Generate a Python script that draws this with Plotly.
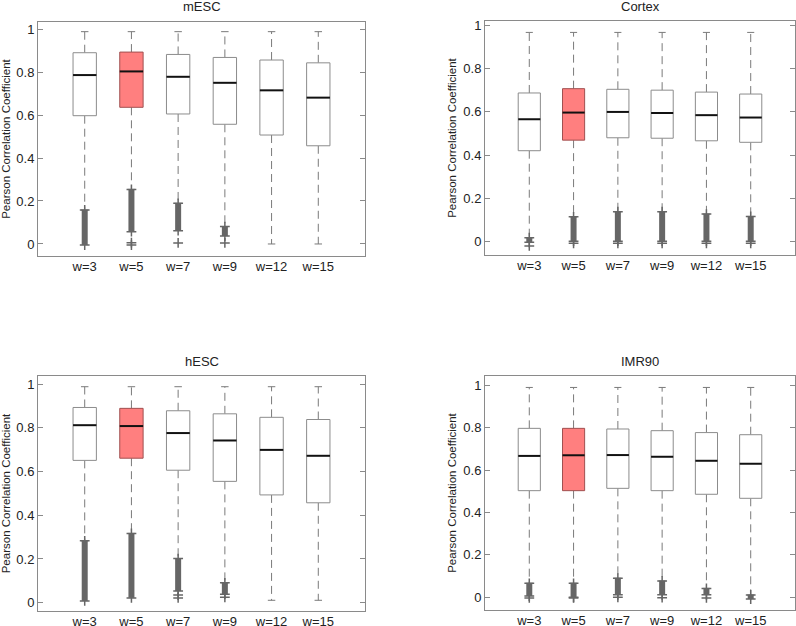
import plotly.graph_objects as go

W, H = 796, 626
categories = ["w=3", "w=5", "w=7", "w=9", "w=12", "w=15"]
highlight = 1  # index of the red box (w=5)

panels = ["mESC", "Cortex", "hESC", "IMR90"]

# mESC
mesc_q1 = [0.597, 0.636, 0.605, 0.557, 0.507, 0.457]
mesc_med = [0.786, 0.803, 0.778, 0.750, 0.715, 0.681]
mesc_q3 = [0.890, 0.893, 0.882, 0.868, 0.856, 0.843]
mesc_wlo = [0.158, 0.254, 0.189, 0.081, 0.0, 0.0]
mesc_whi = [0.988, 0.988, 0.988, 0.988, 0.988, 0.988]
mesc_olo = [-0.005, 0.057, 0.062, 0.037, None, None]
mesc_ohi = [0.158, 0.254, 0.189, 0.081, None, None]
mesc_oext = [[], [0.006, -0.005], [0.005], [0.005], [], []]

# Cortex
cortex_q1 = [0.420, 0.469, 0.480, 0.478, 0.466, 0.459]
cortex_med = [0.566, 0.597, 0.600, 0.595, 0.585, 0.574]
cortex_q3 = [0.688, 0.708, 0.705, 0.701, 0.692, 0.683]
cortex_wlo = [0.016, 0.113, 0.137, 0.137, 0.126, 0.115]
cortex_whi = [0.969, 0.969, 0.969, 0.969, 0.969, 0.969]
cortex_olo = [-0.005, 0.0, 0.0, 0.0, 0.0, 0.0]
cortex_ohi = [0.016, 0.113, 0.137, 0.137, 0.126, 0.115]
cortex_oext = [[-0.022], [-0.01], [-0.01], [-0.01], [-0.01], [-0.01]]

# hESC
hesc_q1 = [0.651, 0.661, 0.606, 0.555, 0.493, 0.457]
hesc_med = [0.812, 0.808, 0.776, 0.742, 0.699, 0.672]
hesc_q3 = [0.893, 0.889, 0.878, 0.864, 0.848, 0.838]
hesc_wlo = [0.283, 0.317, 0.202, 0.091, 0.011, 0.011]
hesc_whi = [0.988, 0.988, 0.988, 0.988, 0.988, 0.988]
hesc_olo = [0.008, 0.022, 0.053, 0.039, None, None]
hesc_ohi = [0.283, 0.317, 0.202, 0.091, None, None]
hesc_oext = [[], [], [0.035, 0.022], [0.025], [], []]

# IMR90
imr_q1 = [0.503, 0.503, 0.514, 0.503, 0.486, 0.467]
imr_med = [0.667, 0.670, 0.671, 0.663, 0.644, 0.630]
imr_q3 = [0.797, 0.797, 0.794, 0.786, 0.777, 0.767]
imr_wlo = [0.066, 0.066, 0.090, 0.077, 0.042, 0.011]
imr_whi = [0.990, 0.990, 0.990, 0.990, 0.990, 0.990]
imr_olo = [0.006, 0.0, 0.012, 0.012, 0.012, -0.008]
imr_ohi = [0.066, 0.066, 0.090, 0.077, 0.042, 0.011]
imr_oext = [[-0.003], [-0.003], [0.0], [-0.002], [-0.003], []]

data = [
    (mesc_q1, mesc_med, mesc_q3, mesc_wlo, mesc_whi, mesc_olo, mesc_ohi, mesc_oext),
    (cortex_q1, cortex_med, cortex_q3, cortex_wlo, cortex_whi, cortex_olo, cortex_ohi, cortex_oext),
    (hesc_q1, hesc_med, hesc_q3, hesc_wlo, hesc_whi, hesc_olo, hesc_ohi, hesc_oext),
    (imr_q1, imr_med, imr_q3, imr_wlo, imr_whi, imr_olo, imr_ohi, imr_oext),
]

# pixel frames: (left, right, top, bottom), y ranges
frames = [(38, 365, 22, 256), (485, 795, 21, 255), (38, 365, 376, 611), (485, 795, 376, 610)]
yranges = [[-0.056, 1.033], [-0.064, 1.022], [-0.038, 1.037], [-0.06, 1.044]]

FRAME = "#8a8a8a"
BOXLINE = "#8c8c8c"
WHISK = "#7a7a7a"
OUT = "#666666"
RED = "#ff7f7f"
FONT = "Liberation Sans, Arial, sans-serif"

fig = go.Figure()
hw = 0.25
cw = 0.08

for p, (q1, med, q3, wlo, whi, olo, ohi, oext) in enumerate(data):
    xa = "x" if p == 0 else f"x{p+1}"
    ya = "y" if p == 0 else f"y{p+1}"
    n = len(categories)
    pos = list(range(1, n + 1))

    wx, wy = [], []
    cx, cy = [], []
    for i in range(n):
        x = pos[i]
        wx += [x, x, None, x, x, None]
        wy += [q3[i], whi[i], None, q1[i], wlo[i], None]
        cx += [x - cw, x + cw, None, x - cw, x + cw, None]
        cy += [whi[i], whi[i], None, wlo[i], wlo[i], None]
    fig.add_trace(go.Scatter(x=wx, y=wy, mode="lines", xaxis=xa, yaxis=ya,
                             line=dict(color=WHISK, width=1, dash="8px,5px"),
                             hoverinfo="skip", showlegend=False))
    fig.add_trace(go.Scatter(x=cx, y=cy, mode="lines", xaxis=xa, yaxis=ya,
                             line=dict(color=WHISK, width=1),
                             hoverinfo="skip", showlegend=False))

    ox, oy, mx, my = [], [], [], []
    for i in range(n):
        x = pos[i]
        if olo[i] is not None:
            ox += [x, x, None]
            oy += [olo[i], ohi[i], None]
            mx += [x, x]
            my += [olo[i], ohi[i]]
        for v in oext[i]:
            mx.append(x)
            my.append(v)
    fig.add_trace(go.Scatter(x=ox, y=oy, mode="lines", xaxis=xa, yaxis=ya,
                             line=dict(color=OUT, width=6),
                             hoverinfo="skip", showlegend=False))
    fig.add_trace(go.Scatter(x=mx, y=my, mode="markers", xaxis=xa, yaxis=ya,
                             marker=dict(symbol="cross-thin", size=7,
                                         line=dict(color=OUT, width=1.5)),
                             hoverinfo="skip", showlegend=False))

    for i in range(n):
        x = pos[i]
        red = (i == highlight)
        fig.add_trace(go.Scatter(
            x=[x - hw, x + hw, x + hw, x - hw, x - hw],
            y=[q1[i], q1[i], q3[i], q3[i], q1[i]],
            mode="lines", fill="toself",
            fillcolor=RED if red else "white",
            line=dict(color="#a05050" if red else BOXLINE, width=1),
            xaxis=xa, yaxis=ya, hoverinfo="skip", showlegend=False))
        fig.add_trace(go.Scatter(
            x=[x - hw, x + hw], y=[med[i], med[i]], mode="lines",
            line=dict(color="#111111", width=2),
            xaxis=xa, yaxis=ya, hoverinfo="skip", showlegend=False))

layout = dict(
    width=W, height=H, margin=dict(l=0, r=0, t=0, b=0),
    paper_bgcolor="white", plot_bgcolor="white", showlegend=False,
    font=dict(family=FONT, color="#222222"),
)
annotations = []
for p in range(4):
    l, r, t, b = frames[p]
    sx = "" if p == 0 else str(p + 1)
    layout["xaxis" + sx] = dict(
        domain=[l / W, r / W], range=[0, 7], anchor="y" + sx,
        tickvals=list(range(1, 7)), ticktext=categories, ticks="",
        ticklabelstandoff=-2, automargin=False,
        showgrid=False, zeroline=False, showline=True, linecolor=FRAME,
        linewidth=1, mirror=True, tickfont=dict(size=13, color="#222222"),
        fixedrange=True)
    layout["yaxis" + sx] = dict(
        domain=[1 - b / H, 1 - t / H], range=yranges[p], anchor="x" + sx,
        tickvals=[0, 0.2, 0.4, 0.6, 0.8, 1], ticktext=["0", "0.2", "0.4", "0.6", "0.8", "1"],
        ticks="inside", ticklen=5, tickcolor=FRAME, automargin=False,
        showgrid=False, zeroline=False, showline=True, linecolor=FRAME,
        linewidth=1, mirror="ticks", tickfont=dict(size=13, color="#222222"),
        title=dict(text="Pearson Correlation Coefficient", font=dict(size=11.5, color="#222222"),
                   standoff=4),
        fixedrange=True)
    annotations.append(dict(
        text=panels[p], x=(l + r) / 2 / W, y=1 - (t - 15) / H,
        xref="paper", yref="paper", showarrow=False,
        font=dict(size=13, color="#222222"), xanchor="center", yanchor="middle"))
layout["annotations"] = annotations
fig.update_layout(**layout)
fig.write_html("out.html", config={"displayModeBar": False},
               post_script="document.body.style.margin='0';document.body.style.overflow='hidden';")
